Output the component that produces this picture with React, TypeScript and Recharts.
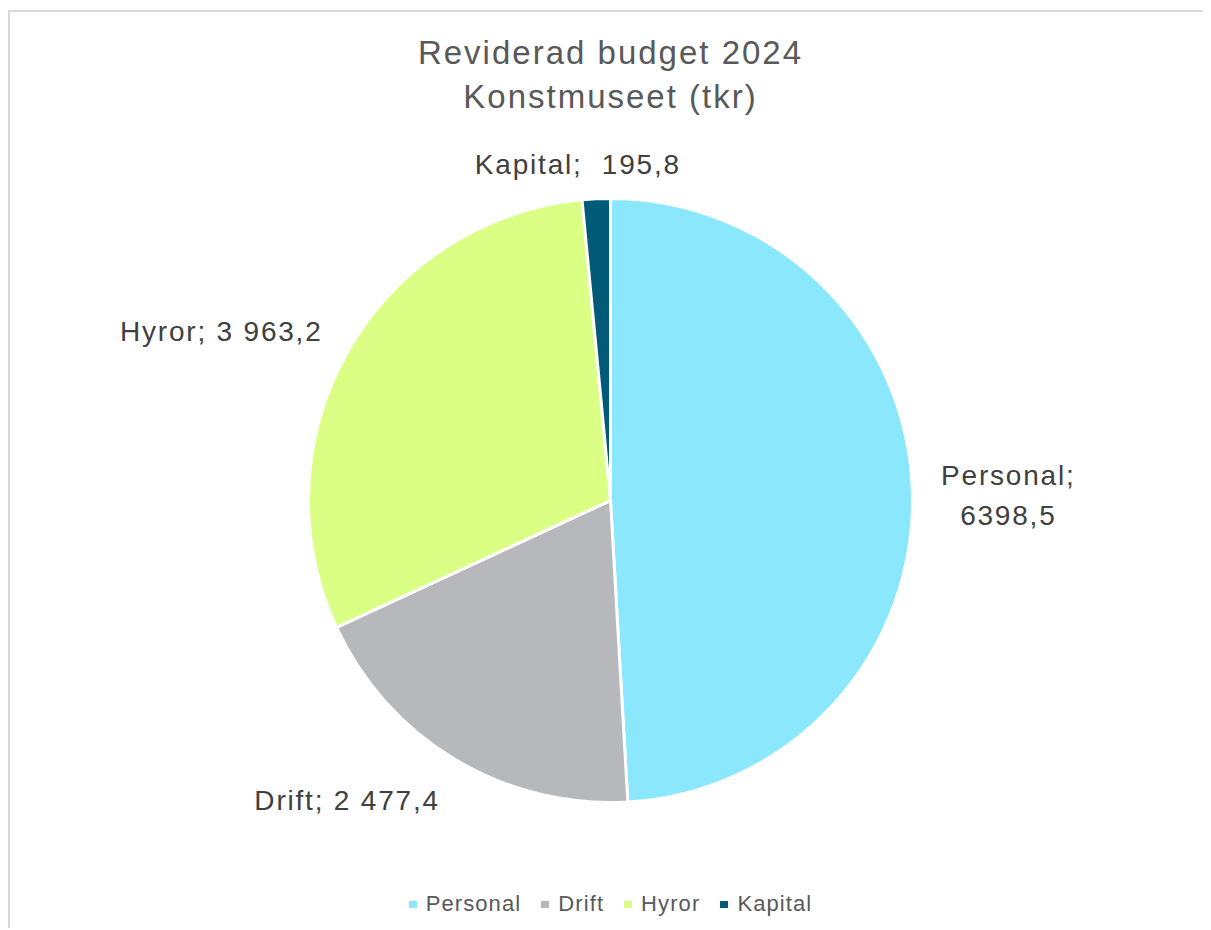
import React from 'react';
import { PieChart, Pie, Cell, Legend } from 'recharts';

// budget categories and values (tkr)
const categories = ['Personal', 'Drift', 'Hyror', 'Kapital'];
const amounts = [6398.5, 2477.4, 3963.2, 195.8];
const valueLabels = ['6398,5', '2 477,4', '3 963,2', ' 195,8'];
const colors = ['#8BE8FC', '#B7B8BC', '#DAFF84', '#005A78'];

const titleLines = ['Reviderad budget 2024', 'Konstmuseet (tkr)'];

const data = categories.map((name, i) => ({ name, value: amounts[i], label: valueLabels[i] }));

const FONT = '"Liberation Sans", Arial, sans-serif';
const RADIAN = Math.PI / 180;

const renderLabel = (props: any) => {
  const { cx, cy, midAngle, outerRadius, index } = props;
  const r = outerRadius + 30;
  const cos = Math.cos(-midAngle * RADIAN);
  const sin = Math.sin(-midAngle * RADIAN);
  const x = cx + r * cos;
  let y = cy + r * sin;
  if (sin > 0.5) y += 15; // bottom labels sit a bit lower
  if (sin < -0.4) y -= 4;
  const entry = data[index];
  const style = { fontFamily: FONT, fontSize: 28, letterSpacing: 1.8, fill: '#404040' };

  // wide right label wraps onto two lines
  if (cos > 0.8) {
    return (
      <text x={x + 66} y={y} textAnchor="middle" style={style}>
        <tspan x={x + 66} dy={-6}>{entry.name};</tspan>
        <tspan x={x + 66} dy={40}>{entry.label}</tspan>
      </text>
    );
  }
  const anchor = cos > 0.3 ? 'start' : cos < -0.3 ? 'end' : 'middle';
  return (
    <text x={anchor === 'middle' ? x - 17 : x} y={y} textAnchor={anchor} dominantBaseline="central" style={{ ...style, whiteSpace: 'pre' }}>
      {`${entry.name}; ${entry.label}`}
    </text>
  );
};

const renderLegend = () => (
  <div style={{ display: 'flex', justifyContent: 'center', alignItems: 'center', fontFamily: FONT, fontSize: 22, letterSpacing: 1.1, color: '#595959' }}>
    {data.map((d, i) => (
      <div key={d.name} style={{ display: 'flex', alignItems: 'center', marginRight: i < data.length - 1 ? 20 : 0 }}>
        <span style={{ width: 8, height: 7, background: colors[i], marginRight: 9, display: 'inline-block' }} />
        <span>{d.name}</span>
      </div>
    ))}
  </div>
);

export default function App() {
  return (
    <div
      style={{
        position: 'relative',
        top: 2,
        width: 1203,
        height: 920,
        borderTop: '2px solid #d9d9d9',
        borderLeft: '2px solid #d9d9d9',
        boxSizing: 'border-box',
        background: '#fff',
      }}
    >
      <div
        style={{
          position: 'absolute',
          top: 19,
          left: 0,
          width: 1201,
          textAlign: 'center',
          fontFamily: FONT,
          fontSize: 33,
          letterSpacing: 2,
          lineHeight: '44px',
          color: '#595959',
        }}
      >
        {titleLines.map(t => (
          <div key={t}>{t}</div>
        ))}
      </div>
      <PieChart width={1201} height={916}>
        <Pie
          data={data}
          dataKey="value"
          nameKey="name"
          cx={595.5}
          cy={483.5}
          outerRadius={302}
          startAngle={90}
          endAngle={-270}
          stroke="#ffffff"
          strokeWidth={3}
          label={renderLabel}
          labelLine={false}
          isAnimationActive={false}
        >
          {data.map((d, i) => (
            <Cell key={d.name} fill={colors[i]} />
          ))}
        </Pie>
        <Legend content={renderLegend} wrapperStyle={{ position: 'absolute', top: 879, left: 0, width: 1201 }} />
      </PieChart>
    </div>
  );
}
